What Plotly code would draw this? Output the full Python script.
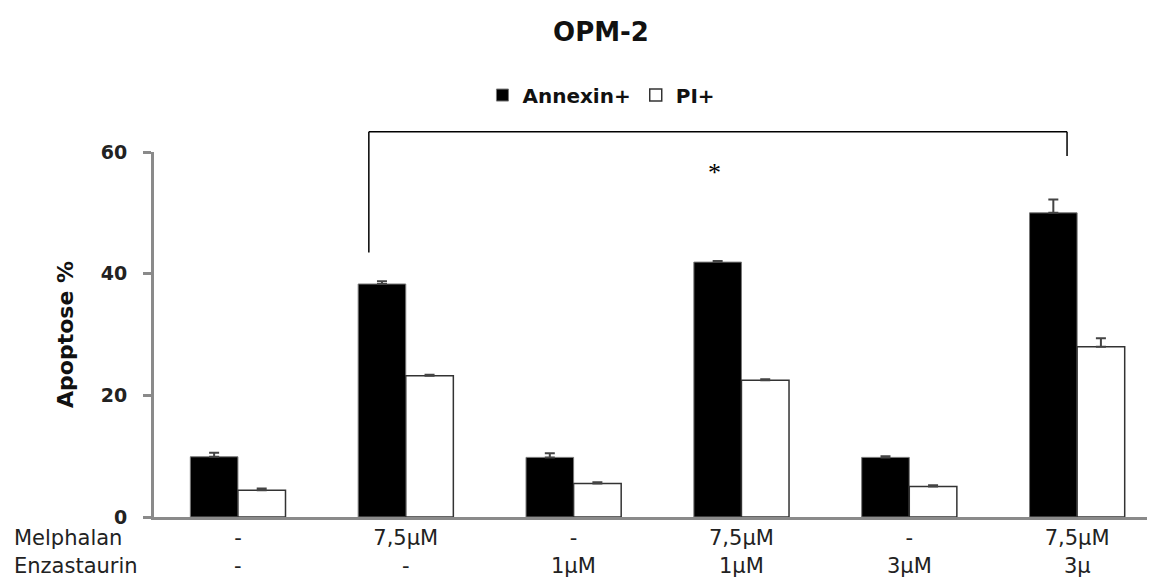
import plotly.graph_objects as go

# ---- data ----
categories = ["g1", "g2", "g3", "g4", "g5", "g6"]
melphalan = ["-", "7,5μM", "-", "7,5μM", "-", "7,5μM"]
enzastaurin = ["-", "-", "1μM", "1μM", "3μM", "3μ"]
annexin = [9.9, 38.3, 9.8, 41.9, 9.8, 50.0]
annexin_err = [0.65, 0.45, 0.7, 0.2, 0.2, 2.2]
pi = [4.4, 23.2, 5.5, 22.5, 5.0, 28.0]
pi_err = [0.3, 0.2, 0.2, 0.15, 0.2, 1.4]
y_ticks = [0, 20, 40, 60]

xpos = list(range(len(categories)))

fig = go.Figure()
fig.add_trace(go.Bar(
    name="Annexin+", x=xpos, y=annexin,
    marker=dict(color="black", line=dict(color="#777777", width=1)),
    error_y=dict(type="data", symmetric=False, array=annexin_err,
                 arrayminus=[0] * len(annexin_err),
                 color="#444444", thickness=2, width=5),
))
fig.add_trace(go.Bar(
    name="PI+", x=xpos, y=pi,
    marker=dict(color="white", line=dict(color="#333333", width=1.5)),
    error_y=dict(type="data", symmetric=False, array=pi_err,
                 arrayminus=[0] * len(pi_err),
                 color="#444444", thickness=2, width=5),
))

label_font = dict(family="DejaVu Sans", size=21, color="#222222")

# the page body adds an 8px offset; the figure is sized to fill the window exactly
fig.update_layout(
    width=1147, height=570,
    margin=dict(l=146, r=0, t=144, b=61),
    paper_bgcolor="white", plot_bgcolor="white",
    barmode="group", bargap=0.433, bargroupgap=0,
    title=dict(text="OPM-2", x=0.517, xref="container", xanchor="center",
               y=0.958, yref="container", yanchor="middle",
               font=dict(family="DejaVu Sans", size=26, color="#111111", weight="bold")),
    showlegend=True,
    legend=dict(orientation="h", x=0.447, xanchor="center", y=1.156, yanchor="middle",
                font=dict(family="DejaVu Sans", size=20, color="#111111", weight="bold"),
                bgcolor="rgba(0,0,0,0)", itemwidth=30, traceorder="normal"),
    xaxis=dict(
        range=[-0.5, 5.464],
        tickmode="array", tickvals=xpos, ticktext=melphalan,
        tickfont=label_font, ticks="", showgrid=False, zeroline=False,
        showline=True, linecolor="#8a8a8a", linewidth=3,
    ),
    yaxis=dict(
        range=[0, 60], tickmode="array", tickvals=y_ticks,
        ticks="outside", ticklen=8, tickwidth=3, tickcolor="#8a8a8a",
        tickfont=dict(family="DejaVu Sans", size=19, color="#222222", weight="bold"),
        ticklabelstandoff=12,
        showgrid=False, zeroline=False,
        showline=True, linecolor="#8a8a8a", linewidth=3,
        title=dict(text="Apoptose %", standoff=22,
                   font=dict(family="DejaVu Sans", size=22, color="#111111", weight="bold")),
    ),
)

# second row of condition labels (Enzastaurin)
for xi, txt in zip(xpos, enzastaurin):
    fig.add_annotation(x=xi, xref="x", y=-0.133, yref="paper", text=txt,
                       showarrow=False, xanchor="center", yanchor="middle",
                       font=label_font)

# row names
fig.add_annotation(x=-0.142, xref="paper", y=-0.058, yref="paper", text="Melphalan",
                   showarrow=False, xanchor="left", yanchor="middle", font=label_font)
fig.add_annotation(x=-0.142, xref="paper", y=-0.133, yref="paper", text="Enzastaurin",
                   showarrow=False, xanchor="left", yanchor="middle", font=label_font)

# significance bracket
bl = dict(color="black", width=1.5)
fig.add_shape(type="line", xref="x", yref="paper", x0=0.78, x1=0.78, y0=0.725, y1=1.0556, line=bl)
fig.add_shape(type="line", xref="x", yref="paper", x0=0.78, x1=4.94, y0=1.0556, y1=1.0556, line=bl)
fig.add_shape(type="line", xref="x", yref="paper", x0=4.94, x1=4.94, y0=0.989, y1=1.0556, line=bl)
fig.add_annotation(x=2.84, xref="x", y=0.943, yref="paper", text="*", showarrow=False,
                   xanchor="center", yanchor="middle",
                   font=dict(family="Liberation Serif", size=26, color="black"))

fig.write_html("out.html")
